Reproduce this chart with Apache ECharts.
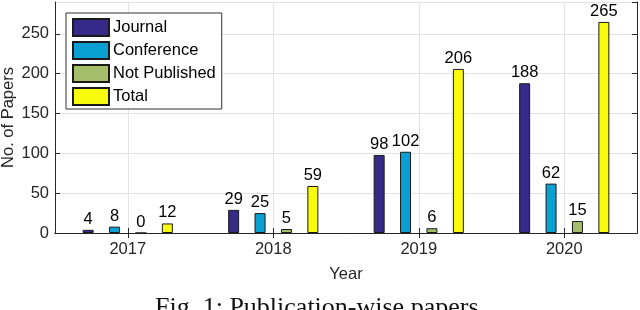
<!DOCTYPE html>
<html><head><meta charset="utf-8">
<script src="https://cdn.jsdelivr.net/npm/echarts@6/dist/echarts.min.js"></script>
<style>html,body{margin:0;padding:0;background:#fff}#c{width:640px;height:310px}</style>
</head><body><div id="c"></div>
<script>
const categories = ['2017', '2018', '2019', '2020'];
const journal = [4, 29, 98, 188];
const conference = [8, 25, 102, 62];
const notPublished = [0, 5, 6, 15];
const total = [12, 59, 206, 265];
const seriesNames = ['Journal', 'Conference', 'Not Published', 'Total'];
const yTickMax = 290;
const colors = ['#352a87', '#0a9fd2', '#a5be6a', '#f9fb0e'];
const font = 'Liberation Sans';
const fs = 16.5;

const chart = echarts.init(document.getElementById('c'), null, {renderer: 'canvas'});
const mk = (name, data, color) => ({
  name, type: 'bar', data, barWidth: 11, barGap: '140%',
  itemStyle: {color, borderColor: '#1a1a1a', borderWidth: 1},
  label: {show: true, position: 'top', distance: 2, fontSize: fs, color: '#000', fontFamily: font},
  xAxisIndex: 0, yAxisIndex: 0
});
chart.setOption({
  animation: false,
  textStyle: {fontFamily: font},
  title: {
    text: 'Fig. 1: Publication-wise papers.', left: 'center', top: 290,
    textStyle: {fontFamily: 'Liberation Serif', fontSize: 26, fontWeight: 'normal', color: '#111'}
  },
  grid: {left: 55, right: 3, top: 2, bottom: 77, containLabel: false, outerBoundsMode: 'none'},
  legend: {
    orient: 'vertical', left: 66, top: 13, itemWidth: 36, itemHeight: 17, itemGap: 4,
    icon: 'rect',
    padding: [5, 6, 3, 6], backgroundColor: '#fff', borderColor: '#333', borderWidth: 1,
    textStyle: {fontSize: fs, color: '#000', fontFamily: font, lineHeight: 17, padding: [0, 0, 0, -1]},
    data: seriesNames
  },
  xAxis: [{
    type: 'category', data: categories, position: 'bottom',
    name: 'Year', nameLocation: 'middle', nameGap: 33,
    nameTextStyle: {fontSize: fs, color: '#262626'},
    axisLine: {lineStyle: {color: '#262626', width: 1}},
    axisTick: {show: true, inside: true, alignWithLabel: true, length: 5, lineStyle: {color: '#262626'}},
    axisLabel: {fontSize: fs, color: '#262626', margin: 8},
    splitLine: {show: true, alignWithLabel: true, lineStyle: {color: '#e3e3e3', width: 1}}
  }, {
    type: 'category', data: categories, position: 'top',
    axisLine: {lineStyle: {color: '#262626', width: 1}},
    axisTick: {show: true, inside: true, alignWithLabel: true, length: 5, lineStyle: {color: '#262626'}},
    axisLabel: {show: false}, splitLine: {show: false}
  }],
  yAxis: [{
    type: 'value', min: 0, max: yTickMax, interval: 50, position: 'left',
    name: 'No. of Papers', nameLocation: 'middle', nameGap: 38, nameMoveOverlap: false,
    nameTextStyle: {fontSize: fs, color: '#262626'},
    axisLine: {show: true, lineStyle: {color: '#262626', width: 1}},
    axisTick: {show: true, inside: true, length: 5, lineStyle: {color: '#262626'}},
    axisLabel: {fontSize: fs, color: '#262626', margin: 6, showMaxLabel: false},
    splitLine: {show: true, lineStyle: {color: '#e3e3e3', width: 1}}
  }, {
    type: 'value', min: 0, max: yTickMax, interval: 50, position: 'right',
    axisLine: {show: true, lineStyle: {color: '#262626', width: 1}},
    axisTick: {show: true, inside: true, length: 5, lineStyle: {color: '#262626'}},
    axisLabel: {show: false}, splitLine: {show: false}
  }],
  series: [
    mk(seriesNames[0], journal, colors[0]),
    mk(seriesNames[1], conference, colors[1]),
    mk(seriesNames[2], notPublished, colors[2]),
    mk(seriesNames[3], total, colors[3])
  ]
});
</script></body></html>
